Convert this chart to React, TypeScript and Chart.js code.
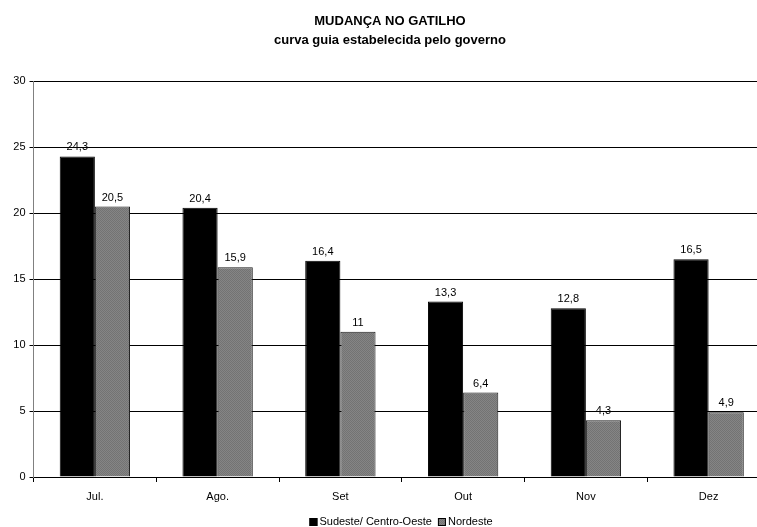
import React, { useEffect, useRef } from "react";
import { Chart, registerables } from "chart.js";

Chart.register(...registerables);

const categories = ["Jul.", "Ago.", "Set", "Out", "Nov", "Dez"];
const sudeste = [24.3, 20.4, 16.4, 13.3, 12.8, 16.5];
const nordeste = [20.5, 15.9, 11, 6.4, 4.3, 4.9];
const seriesNames = ["Sudeste/ Centro-Oeste", "Nordeste"];
const titleText = "MUDANÇA NO GATILHO";
const subtitleText = "curva guia estabelecida pelo governo";
const yMin = 0;
const yMax = 30;
const yStep = 5;

const FONT = "'Liberation Sans', Arial, sans-serif";

function makePattern(): CanvasPattern | string {
  const c = document.createElement("canvas");
  c.width = 2;
  c.height = 2;
  const ctx = c.getContext("2d");
  if (!ctx) return "#7d7d7d";
  ctx.fillStyle = "#858585";
  ctx.fillRect(0, 0, 2, 2);
  ctx.fillStyle = "#737373";
  ctx.fillRect(0, 0, 1, 1);
  ctx.fillRect(1, 1, 1, 1);
  const p = ctx.createPattern(c, "repeat");
  return p || "#7d7d7d";
}

const fmt = (v: number) => String(v).replace(".", ",");

const valueLabels = {
  id: "valueLabels",
  afterDatasetsDraw(chart: any) {
    const ctx = chart.ctx;
    ctx.save();
    ctx.font = `11px ${FONT}`;
    ctx.fillStyle = "#000";
    ctx.textAlign = "center";
    ctx.textBaseline = "alphabetic";
    chart.data.datasets.forEach((ds: any, di: number) => {
      const meta = chart.getDatasetMeta(di);
      meta.data.forEach((bar: any, i: number) => {
        ctx.fillText(fmt(ds.data[i]), bar.x, bar.y - 6);
      });
    });
    ctx.restore();
  },
};

const customLegend = {
  id: "customLegend",
  afterDraw(chart: any) {
    const ctx = chart.ctx;
    ctx.save();
    ctx.font = `11px ${FONT}`;
    ctx.textBaseline = "middle";
    ctx.textAlign = "left";
    const box = 8;
    const gapAfterBox = 2;
    const gapBetween = 6;
    const widths = seriesNames.map((n) => ctx.measureText(n).width);
    const total =
      widths.reduce((a: number, b: number) => a + b, 0) +
      seriesNames.length * (box + gapAfterBox) +
      gapBetween * (seriesNames.length - 1);
    const cx = 401;
    const cy = 522;
    let x = cx - total / 2;
    seriesNames.forEach((name, i) => {
      const ds = chart.data.datasets[i];
      ctx.fillStyle = ds.backgroundColor;
      ctx.fillRect(x, cy - box / 2, box, box);
      ctx.strokeStyle = "#000";
      ctx.lineWidth = 1;
      ctx.strokeRect(x + 0.5, cy - box / 2 + 0.5, box - 1, box - 1);
      x += box + gapAfterBox;
      ctx.fillStyle = "#000";
      ctx.fillText(name, x, cy);
      x += widths[i] + gapBetween;
    });
    ctx.restore();
  },
};

export default function App() {
  const ref = useRef<HTMLCanvasElement | null>(null);

  useEffect(() => {
    if (!ref.current) return;
    const pattern = makePattern();
    const chart = new Chart(ref.current, {
      type: "bar",
      data: {
        labels: categories,
        datasets: [
          {
            label: seriesNames[0],
            data: sudeste,
            backgroundColor: "#000000",
            borderColor: "#000000",
            borderWidth: 1,
            categoryPercentage: 0.573,
            barPercentage: 1,
          },
          {
            label: seriesNames[1],
            data: nordeste,
            backgroundColor: pattern as any,
            borderColor: "#1a1a1a",
            borderWidth: 1,
            categoryPercentage: 0.573,
            barPercentage: 1,
          },
        ],
      },
      options: {
        responsive: false,
        animation: false,
        layout: { padding: { left: 10, right: 10, top: 0, bottom: 0 } },
        plugins: {
          legend: { display: false },
          tooltip: { enabled: false },
          title: {
            display: true,
            text: titleText,
            color: "#000",
            font: { family: FONT, size: 13, weight: "bold" },
            padding: { top: 14, bottom: 0 },
          },
          subtitle: {
            display: true,
            text: subtitleText,
            color: "#000",
            font: { family: FONT, size: 13, weight: "bold" },
            padding: { top: 3, bottom: 33 },
          },
        },
        scales: {
          x: {
            offset: true,
            grid: {
              offset: true,
              drawOnChartArea: false,
              drawTicks: true,
              tickLength: 5,
              color: "#000",
            },
            border: { display: true, color: "#000" },
            ticks: {
              color: "#000",
              font: { family: FONT, size: 11 },
              padding: 8,
              maxRotation: 0,
            },
            afterFit(scale: any) {
              scale.height = 50;
            },
          },
          y: {
            min: yMin,
            max: yMax,
            ticks: {
              stepSize: yStep,
              color: "#000",
              font: { family: FONT, size: 11 },
              padding: 4,
            },
            grid: {
              color: "#000",
              tickLength: 4,
            },
            border: { display: true, color: "#808080" },
            afterFit(scale: any) {
              scale.width = 23.5;
            },
          },
        },
      },
      plugins: [valueLabels, customLegend],
    });
    return () => chart.destroy();
  }, []);

  return (
    <div
      style={{
        position: "fixed",
        left: 0,
        top: 0,
        width: 757,
        height: 527,
        overflow: "hidden",
        background: "#fff",
      }}
    >
      <canvas ref={ref} width={780} height={527} style={{ display: "block", width: 780, height: 527 }} />
    </div>
  );
}
